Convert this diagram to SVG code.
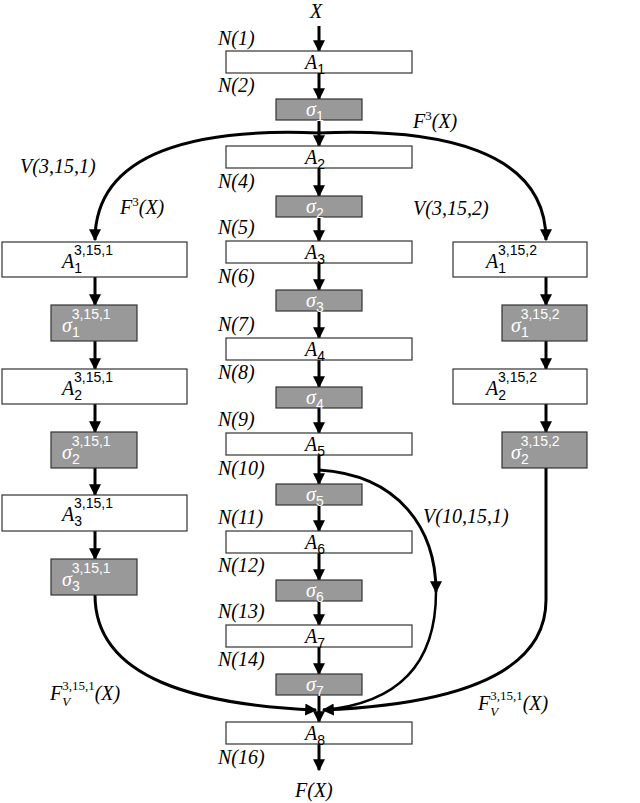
<svg xmlns="http://www.w3.org/2000/svg" width="640" height="803" viewBox="0 0 640 803">
<style>
.a{fill:#fff;stroke:#333;stroke-width:1.2}
.s{fill:#999;stroke:#333;stroke-width:1.2}
.t{font-family:"Liberation Serif",serif;font-style:italic;font-size:20px;fill:#000}
.w{font-family:"Liberation Serif",serif;font-style:italic;font-size:20px;fill:#fff}
.sub{font-size:14px;font-style:normal;font-family:"Liberation Sans",sans-serif}
.l{stroke:#000;stroke-width:3;fill:none;marker-end:url(#ar)}
.c{stroke:#000;stroke-width:2.5;fill:none}
</style>
<defs><marker id="ar" viewBox="0 0 10 10" refX="9" refY="5" markerWidth="4" markerHeight="4" orient="auto"><path d="M0,0L10,5L0,10z"/></marker></defs>
<g id="connectors">
<path class="l" d="M319,26V51"/><path class="l" d="M319,73V99"/><path class="l" d="M319,120V146"/><path class="l" d="M319,168V196"/><path class="l" d="M319,217V241"/><path class="l" d="M319,263V290"/><path class="l" d="M319,311V338"/><path class="l" d="M319,360V387"/><path class="l" d="M319,408V433"/><path class="l" d="M319,455V484"/><path class="l" d="M319,505V531"/><path class="l" d="M319,553V580"/><path class="l" d="M319,601V625"/><path class="l" d="M319,647V674"/><path class="l" d="M319,695V722"/><path class="l" d="M319,744V770"/>
<path class="l" d="M95,277V305"/><path class="l" d="M95,341V369"/><path class="l" d="M95,404V432"/><path class="l" d="M95,468V495"/><path class="l" d="M95,531V559"/>
<path class="l" d="M546,277V305"/><path class="l" d="M546,341V369"/><path class="l" d="M546,404V432"/>
<path class="l" d="M319,133C200,128 95,150 95,240"/>
<path class="l" d="M319,133C440,128 546,150 546,240"/>
<path class="l" d="M95,595C95,680 200,705 316,710"/>
<path class="l" d="M546,468V600C546,680 440,705 323,710"/>
<path class="l" d="M319,470C400,475 436,530 436,592"/>
<path class="c" d="M436,592C436,680 380,705 323,710"/>
</g>
<g id="labels" class="t">
<text x="310" y="18">X</text>
<text x="218" y="45">N(1)</text><text x="218" y="92">N(2)</text><text x="218" y="188">N(4)</text><text x="218" y="234">N(5)</text><text x="218" y="283">N(6)</text><text x="218" y="331">N(7)</text><text x="218" y="379">N(8)</text><text x="218" y="426">N(9)</text><text x="218" y="475">N(10)</text><text x="218" y="524">N(11)</text><text x="218" y="572">N(12)</text><text x="218" y="618">N(13)</text><text x="218" y="666">N(14)</text><text x="218" y="764">N(16)</text>
<text x="413" y="128">F<tspan dy="-8" font-size="13" font-style="normal">3</tspan><tspan dy="8">(X)</tspan></text>
<text x="120" y="214">F<tspan dy="-8" font-size="13" font-style="normal">3</tspan><tspan dy="8">(X)</tspan></text>
<text x="20" y="173">V(3,15,1)</text>
<text x="413" y="215">V(3,15,2)</text>
<text x="423" y="523">V(10,15,1)</text>
<text x="50" y="700">F<tspan dy="6" font-size="13">V</tspan><tspan dx="-8" dy="-16" font-size="13" font-style="normal">3,15,1</tspan><tspan dy="10">(X)</tspan></text>
<text x="478" y="710">F<tspan dy="6" font-size="13">V</tspan><tspan dx="-8" dy="-16" font-size="13" font-style="normal">3,15,1</tspan><tspan dy="10">(X)</tspan></text>
<text x="295" y="797">F(X)</text>
</g>
<g id="A1"><rect class="a" x="226" y="51" width="186" height="22"/><text class="t" x="305" y="69">A<tspan class="sub" dy="5">1</tspan></text></g>
<g id="s1"><rect class="s" x="276" y="99" width="86" height="21"/><text class="w" x="306" y="116">σ<tspan class="sub" dy="5">1</tspan></text></g>
<g id="A2"><rect class="a" x="226" y="146" width="186" height="22"/><text class="t" x="305" y="164">A<tspan class="sub" dy="5">2</tspan></text></g>
<g id="s2"><rect class="s" x="276" y="196" width="86" height="21"/><text class="w" x="306" y="213">σ<tspan class="sub" dy="5">2</tspan></text></g>
<g id="A3"><rect class="a" x="226" y="241" width="186" height="22"/><text class="t" x="305" y="259">A<tspan class="sub" dy="5">3</tspan></text></g>
<g id="s3"><rect class="s" x="276" y="290" width="86" height="21"/><text class="w" x="306" y="307">σ<tspan class="sub" dy="5">3</tspan></text></g>
<g id="A4"><rect class="a" x="226" y="338" width="186" height="22"/><text class="t" x="305" y="356">A<tspan class="sub" dy="5">4</tspan></text></g>
<g id="s4"><rect class="s" x="276" y="387" width="86" height="21"/><text class="w" x="306" y="404">σ<tspan class="sub" dy="5">4</tspan></text></g>
<g id="A5"><rect class="a" x="226" y="433" width="186" height="22"/><text class="t" x="305" y="451">A<tspan class="sub" dy="5">5</tspan></text></g>
<g id="s5"><rect class="s" x="276" y="484" width="86" height="21"/><text class="w" x="306" y="501">σ<tspan class="sub" dy="5">5</tspan></text></g>
<g id="A6"><rect class="a" x="226" y="531" width="186" height="22"/><text class="t" x="305" y="549">A<tspan class="sub" dy="5">6</tspan></text></g>
<g id="s6"><rect class="s" x="276" y="580" width="86" height="21"/><text class="w" x="306" y="597">σ<tspan class="sub" dy="5">6</tspan></text></g>
<g id="A7"><rect class="a" x="226" y="625" width="186" height="22"/><text class="t" x="305" y="643">A<tspan class="sub" dy="5">7</tspan></text></g>
<g id="s7"><rect class="s" x="276" y="674" width="86" height="21"/><text class="w" x="306" y="691">σ<tspan class="sub" dy="5">7</tspan></text></g>
<g id="A8"><rect class="a" x="226" y="722" width="186" height="22"/><text class="t" x="305" y="740">A<tspan class="sub" dy="5">8</tspan></text></g>
<g id="LA1"><rect class="a" x="2" y="242" width="185" height="35"/><text class="t" x="62" y="268">A<tspan class="sub" dy="5">1</tspan><tspan class="sub" dx="-8" dy="-18">3,15,1</tspan></text></g>
<g id="Ls1"><rect class="s" x="51" y="305" width="86" height="36"/><text class="w" x="62" y="332">σ<tspan class="sub" dy="5">1</tspan><tspan class="sub" dx="-8" dy="-18">3,15,1</tspan></text></g>
<g id="LA2"><rect class="a" x="2" y="369" width="185" height="35"/><text class="t" x="62" y="395">A<tspan class="sub" dy="5">2</tspan><tspan class="sub" dx="-8" dy="-18">3,15,1</tspan></text></g>
<g id="Ls2"><rect class="s" x="51" y="432" width="86" height="36"/><text class="w" x="62" y="459">σ<tspan class="sub" dy="5">2</tspan><tspan class="sub" dx="-8" dy="-18">3,15,1</tspan></text></g>
<g id="LA3"><rect class="a" x="2" y="495" width="185" height="36"/><text class="t" x="62" y="521">A<tspan class="sub" dy="5">3</tspan><tspan class="sub" dx="-8" dy="-18">3,15,1</tspan></text></g>
<g id="Ls3"><rect class="s" x="51" y="559" width="86" height="36"/><text class="w" x="62" y="586">σ<tspan class="sub" dy="5">3</tspan><tspan class="sub" dx="-8" dy="-18">3,15,1</tspan></text></g>
<g id="RA1"><rect class="a" x="453" y="242" width="134" height="35"/><text class="t" x="486" y="268">A<tspan class="sub" dy="5">1</tspan><tspan class="sub" dx="-8" dy="-18">3,15,2</tspan></text></g>
<g id="Rs1"><rect class="s" x="502" y="305" width="85" height="36"/><text class="w" x="511" y="332">σ<tspan class="sub" dy="5">1</tspan><tspan class="sub" dx="-8" dy="-18">3,15,2</tspan></text></g>
<g id="RA2"><rect class="a" x="453" y="369" width="134" height="35"/><text class="t" x="486" y="395">A<tspan class="sub" dy="5">2</tspan><tspan class="sub" dx="-8" dy="-18">3,15,2</tspan></text></g>
<g id="Rs2"><rect class="s" x="502" y="432" width="85" height="36"/><text class="w" x="511" y="459">σ<tspan class="sub" dy="5">2</tspan><tspan class="sub" dx="-8" dy="-18">3,15,2</tspan></text></g>
</svg>
